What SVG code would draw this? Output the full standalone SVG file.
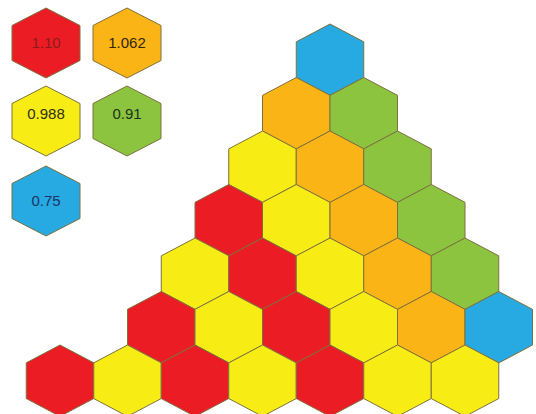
<svg xmlns="http://www.w3.org/2000/svg" xmlns:xlink="http://www.w3.org/1999/xlink" width="536" height="414" viewBox="0 0 536 414">
<style>
.hx{stroke:#7d7040;stroke-width:1}
.r{fill:#ec1c24}.o{fill:#fbb415}.y{fill:#f7ec14}.g{fill:#8cc43f}.b{fill:#27a9e1}
.t{font-family:"Liberation Sans",Arial,sans-serif;font-size:15px;text-anchor:middle}
</style>
<defs>
<polygon id="h" points="0,-35.7 33.75,-17.85 33.75,17.85 0,35.7 -33.75,17.85 -33.75,-17.85"/>
<polygon id="L" points="0,-35 34,-17.5 34,17.5 0,35 -34,17.5 -34,-17.5"/>
</defs>
<rect width="536" height="414" fill="#ffffff"/>
<g id="legend">
<g id="leg-red"><use xlink:href="#L" class="hx r" x="46" y="43"/><text class="t" x="46" y="48" fill="#8a1c1c">1.10</text></g>
<g id="leg-orange"><use xlink:href="#L" class="hx o" x="127" y="43"/><text class="t" x="127" y="48" fill="#33250c">1.062</text></g>
<g id="leg-yellow"><use xlink:href="#L" class="hx y" x="46" y="121"/><text class="t" x="46" y="119" fill="#2e2e1e">0.988</text></g>
<g id="leg-green"><use xlink:href="#L" class="hx g" x="127" y="121"/><text class="t" x="127" y="119" fill="#1a331a">0.91</text></g>
<g id="leg-blue"><use xlink:href="#L" class="hx b" x="46" y="201"/><text class="t" x="46" y="206" fill="#1a3566">0.75</text></g>
</g>
<g id="grid">
<g id="r1"><use xlink:href="#h" class="hx b" x="330" y="59.7"/></g>
<g id="r2"><use xlink:href="#h" class="hx o" x="296.25" y="113.2"/><use xlink:href="#h" class="hx g" x="363.75" y="113.2"/></g>
<g id="r3"><use xlink:href="#h" class="hx y" x="262.5" y="166.7"/><use xlink:href="#h" class="hx o" x="330" y="166.7"/><use xlink:href="#h" class="hx g" x="397.5" y="166.7"/></g>
<g id="r4"><use xlink:href="#h" class="hx r" x="228.75" y="220.2"/><use xlink:href="#h" class="hx y" x="296.25" y="220.2"/><use xlink:href="#h" class="hx o" x="363.75" y="220.2"/><use xlink:href="#h" class="hx g" x="431.25" y="220.2"/></g>
<g id="r5"><use xlink:href="#h" class="hx y" x="195" y="273.7"/><use xlink:href="#h" class="hx r" x="262.5" y="273.7"/><use xlink:href="#h" class="hx y" x="330" y="273.7"/><use xlink:href="#h" class="hx o" x="397.5" y="273.7"/><use xlink:href="#h" class="hx g" x="465" y="273.7"/></g>
<g id="r6"><use xlink:href="#h" class="hx r" x="161.25" y="327.2"/><use xlink:href="#h" class="hx y" x="228.75" y="327.2"/><use xlink:href="#h" class="hx r" x="296.25" y="327.2"/><use xlink:href="#h" class="hx y" x="363.75" y="327.2"/><use xlink:href="#h" class="hx o" x="431.25" y="327.2"/><use xlink:href="#h" class="hx b" x="498.75" y="327.2"/></g>
<g id="r7"><use xlink:href="#h" class="hx r" x="60" y="380.7"/><use xlink:href="#h" class="hx y" x="127.5" y="380.7"/><use xlink:href="#h" class="hx r" x="195" y="380.7"/><use xlink:href="#h" class="hx y" x="262.5" y="380.7"/><use xlink:href="#h" class="hx r" x="330" y="380.7"/><use xlink:href="#h" class="hx y" x="397.5" y="380.7"/><use xlink:href="#h" class="hx y" x="465" y="380.7"/></g>
</g>
<g id="connectors"/>
</svg>
